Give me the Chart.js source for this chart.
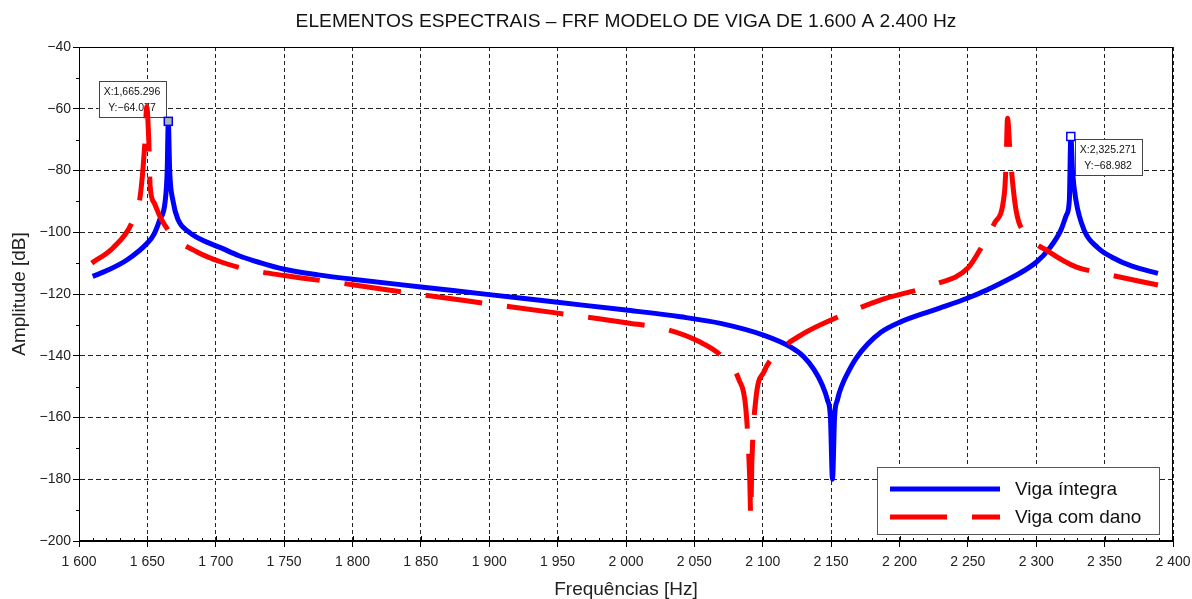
<!DOCTYPE html>
<html>
<head>
<meta charset="utf-8">
<script src="https://cdn.jsdelivr.net/npm/chart.js@4.4.1/dist/chart.umd.min.js"></script>
<style>
  html, body { margin: 0; padding: 0; background: #fff; }
  #wrap { width: 1192px; height: 599px; }
</style>
</head>
<body>
<div id="wrap"><canvas id="c" width="1192" height="599"></canvas></div>
<script>
// ---- Data ----
const chartTitle = 'ELEMENTOS ESPECTRAIS \u2013 FRF MODELO DE VIGA DE 1.600 A 2.400 Hz';
const xTitle = 'Frequências [Hz]';
const yTitle = 'Amplitude [dB]';
const seriesNames = ['Viga íntegra', 'Viga com dano'];

const freqIntegra = [1610, 1620, 1635, 1650, 1655, 1659, 1663, 1664.5, 1665.3, 1666.3,
  1668.8, 1672.5, 1680, 1690, 1703, 1717, 1732, 1750, 1775, 1800,
  1850, 1900, 1950, 2000, 2040, 2070, 2101, 2120.5, 2130, 2137.5,
  2143, 2147.3, 2149.5, 2151, 2152.5, 2154.6, 2158, 2162, 2168, 2176.6,
  2186.4, 2200, 2225, 2250, 2274, 2300, 2310, 2318, 2322, 2324.2,
  2325.3, 2326.5, 2329, 2335, 2345, 2355, 2370, 2389];
const ampIntegra = [-114.3, -112.5, -109, -103.5, -100.5, -96, -90, -80, -64.1, -80,
  -90, -96, -99.8, -102.5, -104.9, -107.6, -109.8, -112, -113.8, -115.2,
  -117.7, -120.2, -122.7, -125.2, -127.4, -129.6, -133.4, -137.2, -140.3, -144.5,
  -149, -154.3, -160, -180, -160, -154.3, -149.5, -145.7, -141, -136.3,
  -132.4, -129.2, -125.2, -121.3, -116.5, -109.7, -105, -99.3, -94.5, -89.6,
  -69, -80, -89.6, -99.3, -105, -108, -111, -113.3];

const freqDano = [1609.3, 1625, 1638.6, 1644.7, 1648.3, 1649.5, 1651, 1652, 1655, 1659.3,
  1669, 1686, 1705, 1725, 1750, 1800, 1850, 1900, 1950, 2000,
  2030, 2053.4, 2070, 2082.7, 2087.6, 2090.5, 2091.2, 2092, 2094.9, 2101,
  2112, 2130.3, 2150, 2186.4, 2225, 2250, 2260.9, 2269.4, 2276.7, 2277.9,
  2279, 2281, 2285.2, 2293.7, 2310, 2329, 2348.6, 2389];
const ampDano = [-110, -105, -97, -88.5, -70, -59.3, -70, -85, -90.5, -95,
  -101.4, -106.3, -109.8, -112.2, -114, -117, -120.2, -123.2, -126.2, -129.3,
  -131.5, -135.4, -140.2, -147.9, -157, -180, -192, -175, -154.3, -145.1,
  -138.5, -132.7, -128.4, -121.9, -117, -111.6, -104.1, -97.1, -87.4, -78.2,
  -63.1, -75.5, -92.8, -100.9, -106.5, -111.2, -113.3, -117.1];

// data tips
const tipX = [1665.296, 2325.271];
const tipY = [-64.077, -68.982];
const tipLabels = [['X:1,665.296', 'Y:\u221264.077'], ['X:2,325.271', 'Y:\u221268.982']];

const xMin = 1600, xMax = 2400, xStep = 50, xMinor = 10;
const yMin = -200, yMax = -40, yStep = 20, yMinor = 10;

// ---- Rendering ----
const FONT = "'Liberation Sans', Arial, Helvetica, sans-serif";
function fmtThousands(v) {
  const s = String(Math.round(v));
  return s.length > 3 ? s.slice(0, s.length - 3) + ' ' + s.slice(s.length - 3) : s;
}
function fmtMinus(v) { return v < 0 ? '\u2212' + Math.abs(v) : String(v); }

const framePlugin = {
  id: 'frame',
  beforeDatasetsDraw(chart) {
    const {ctx, scales: {x, y}} = chart;
    ctx.save();
    ctx.font = '10.5px ' + FONT;
    for (let i = 0; i < tipX.length; i++) {
      const px = x.getPixelForValue(tipX[i]);
      const py = y.getPixelForValue(tipY[i]);
      const lines = tipLabels[i];
      const w = Math.max(...lines.map(l => ctx.measureText(l).width)) + 10;
      const h = 36;
      let bx, by;
      if (i === 0) { bx = px - 3 - w; by = py - 4 - h; }
      else { bx = px + 4; by = py + 3; }
      ctx.fillStyle = '#ffffff';
      ctx.fillRect(bx, by, w, h);
      ctx.strokeStyle = '#444';
      ctx.lineWidth = 1;
      ctx.strokeRect(Math.round(bx) + 0.5, Math.round(by) + 0.5, Math.round(w), Math.round(h));
      ctx.fillStyle = '#111';
      ctx.textAlign = 'center';
      ctx.textBaseline = 'middle';
      ctx.fillText(lines[0], bx + w / 2, by + 10.5);
      ctx.fillText(lines[1], bx + w / 2, by + 27);
    }
    ctx.restore();
  },
  afterDatasetsDraw(chart) {
    const {ctx, chartArea: a, scales: {x, y}} = chart;
    ctx.save();
    for (let i = 0; i < tipX.length; i++) {
      const px = x.getPixelForValue(tipX[i]);
      const py = y.getPixelForValue(tipY[i]);
      ctx.fillStyle = i === 0 ? '#b4b4b4' : '#ffffff';
      ctx.strokeStyle = '#0000ff';
      ctx.lineWidth = 1.5;
      ctx.fillRect(px - 4, py - 4, 8, 8);
      ctx.strokeRect(px - 4, py - 4, 8, 8);
    }
    ctx.strokeStyle = '#000';
    ctx.lineWidth = 1;
    ctx.strokeRect(Math.round(a.left) + 0.5, Math.round(a.top) + 0.5,
      Math.round(a.right - a.left) - 1, Math.round(a.bottom - a.top) - 1);
    ctx.beginPath();
    for (let v = xMin; v <= xMax; v += xMinor) {
      const px = Math.round(x.getPixelForValue(v)) + 0.5;
      const major = (v - xMin) % xStep === 0;
      ctx.moveTo(px, a.bottom);
      ctx.lineTo(px, a.bottom - (major ? 5 : 3));
    }
    for (let v = yMin; v <= yMax; v += yMinor) {
      if ((v - yMin) % yStep === 0) continue;
      const py = Math.round(y.getPixelForValue(v)) + 0.5;
      ctx.moveTo(a.left, py);
      ctx.lineTo(a.left - 3, py);
    }
    ctx.stroke();
    // legend
    const lx = 877, ly = 467, lw = 282, lh = 67;
    ctx.fillStyle = '#fff';
    ctx.fillRect(lx, ly, lw, lh);
    ctx.strokeStyle = '#555';
    ctx.strokeRect(lx + 0.5, ly + 0.5, lw, lh);
    const ds = chart.data.datasets;
    const rows = [489, 517];
    ctx.font = '19px ' + FONT;
    ctx.textBaseline = 'middle';
    ctx.textAlign = 'left';
    for (let i = 0; i < ds.length; i++) {
      ctx.save();
      ctx.strokeStyle = ds[i].borderColor;
      ctx.lineWidth = ds[i].borderWidth;
      ctx.setLineDash(ds[i].borderDash || []);
      ctx.beginPath();
      ctx.moveTo(890, rows[i]);
      ctx.lineTo(1000, rows[i]);
      ctx.stroke();
      ctx.restore();
      ctx.fillStyle = '#111';
      ctx.fillText(ds[i].label, 1015, rows[i] + 1);
    }
    // title
    ctx.font = '19.2px ' + FONT;
    ctx.fillStyle = '#111';
    ctx.textAlign = 'center';
    ctx.textBaseline = 'middle';
    ctx.fillText(chartTitle, (a.left + a.right) / 2, 22);
    ctx.restore();
  }
};

new Chart(document.getElementById('c'), {
  type: 'line',
  data: {
    datasets: [
      {
        label: seriesNames[0],
        data: freqIntegra.map((f, i) => ({x: f, y: ampIntegra[i]})),
        borderColor: '#0000ff',
        borderWidth: 5,
        pointRadius: 0,
        cubicInterpolationMode: 'monotone',
        borderJoinStyle: 'round',
        fill: false,
        order: 1
      },
      {
        label: seriesNames[1],
        data: freqDano.map((f, i) => ({x: f, y: ampDano[i]})),
        borderColor: '#ff0000',
        borderWidth: 5,
        borderDash: [57, 25],
        pointRadius: 0,
        cubicInterpolationMode: 'monotone',
        borderJoinStyle: 'round',
        fill: false,
        order: 0
      }
    ]
  },
  options: {
    responsive: false,
    animation: false,
    devicePixelRatio: 1,
    layout: {padding: {top: 47, right: 19, left: 0, bottom: 0}},
    plugins: {legend: {display: false}, tooltip: {enabled: false}, title: {display: false}},
    scales: {
      x: {
        type: 'linear', min: xMin, max: xMax,
        ticks: {stepSize: xStep, autoSkip: false, maxRotation: 0, padding: 7,
          color: '#222', font: {family: FONT, size: 14},
          callback: v => fmtThousands(v)},
        grid: {color: '#222', lineWidth: 1, tickLength: 6, tickColor: '#000', tickBorderDash: [], tickWidth: 1},
        border: {display: true, color: '#000', width: 1, dash: [4, 3]},
        title: {display: true, text: xTitle, color: '#222', font: {family: FONT, size: 19, lineHeight: 1.0}, padding: {top: 0, bottom: 0}},
        afterFit(s) { s.height = 58; s.paddingLeft = 0; s.paddingRight = 0; }
      },
      y: {
        type: 'linear', min: yMin, max: yMax,
        ticks: {stepSize: yStep, autoSkip: false, padding: 2,
          color: '#222', font: {family: FONT, size: 14},
          callback: v => fmtMinus(v)},
        grid: {color: '#222', lineWidth: 1, tickLength: 6, tickColor: '#000', tickBorderDash: [], tickWidth: 1},
        border: {display: true, color: '#000', width: 1, dash: [5, 3]},
        title: {display: true, text: yTitle, color: '#222', font: {family: FONT, size: 19, lineHeight: 1.0}, padding: {top: 10, bottom: 0}},
        afterFit(s) { s.width = 79; }
      }
    }
  },
  plugins: [framePlugin]
});
</script>
</body>
</html>
